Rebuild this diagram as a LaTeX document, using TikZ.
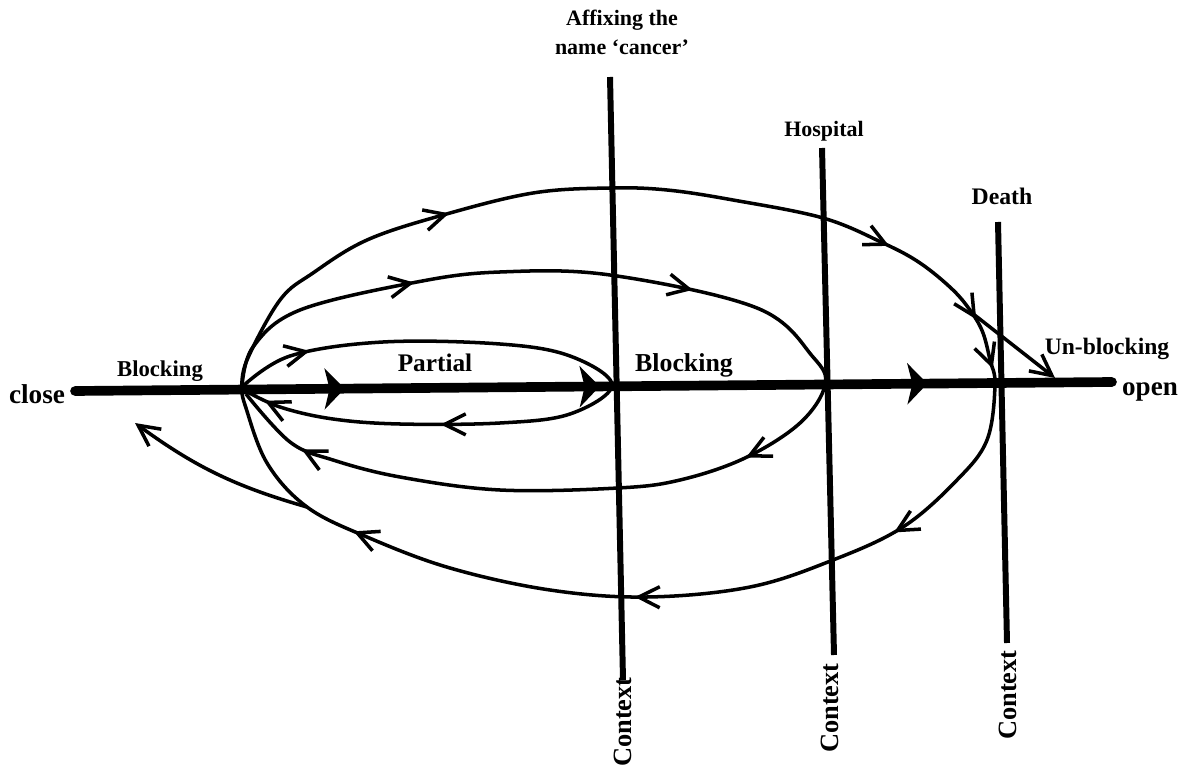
\documentclass[tikz,border=0pt]{standalone}
\usepackage{fontspec}
\setmainfont{Liberation Serif}
\usetikzlibrary{arrows.meta, decorations.markings}

\tikzset{
  axisline/.style={line width=5.5pt, line cap=round},
  ctxline/.style={line width=3.4pt},
  flow/.style={line width=2pt},
  bigtip at/.style={postaction={decorate, decoration={markings,
      mark=at position #1 with {\arrow{Stealth[length=0.4cm, width=0.82cm, inset=0.1cm]}}}}},
  tip at/.style={postaction={decorate, decoration={markings,
      mark=at position #1 with {\arrow{Straight Barb[length=0.42cm, width=0.42cm]}}}}},
  lbl/.style={inner sep=0pt, font=\bfseries\fontsize{#1}{17}\selectfont},
}

\begin{document}
\begin{tikzpicture}
    \useasboundingbox (0,0) rectangle (23.62,15.38);
    % points on the main line
    \coordinate (L) at (1.50,7.56);
    \coordinate (R) at (22.24,7.74);
    \coordinate (J) at (4.84,7.64);
    \coordinate (A) at (12.24,7.68);
    \coordinate (H) at (16.50,7.68);
    \coordinate (D) at (19.90,7.68);
    % branch points
    \coordinate (B) at (19.44,9.12);
    \coordinate (U) at (21.10,7.82);
    \coordinate (X) at (6.14,5.24);
    \coordinate (C) at (2.70,6.92);

    % labels
    \node[lbl=15.5, anchor=base] (close) at (0.74,7.30) {close};
    \node[lbl=12.9, anchor=base] (block1) at (3.20,7.84) {Blocking};
    \node[lbl=14.4, anchor=base] (partial) at (8.70,7.94) {Partial};
    \node[lbl=14.7, anchor=base] (block2) at (13.68,7.94) {Blocking};
    \node[lbl=13.4, anchor=base] (unblock) at (22.14,8.28) {Un-blocking};
    \node[lbl=15.4, anchor=base] (open) at (23.00,7.48) {open};
    \node[lbl=12.5, anchor=base, align=center] (affix) at (12.44,14.28) {Affixing the\\name `cancer'};
    \node[lbl=12.5, anchor=base] (hosp) at (16.48,12.64) {Hospital};
    \node[lbl=13.5, anchor=base] (death) at (20.04,11.28) {Death};
    \node[lbl=15, rotate=90] (ctx1) at (12.46,0.94) {Context};
    \node[lbl=15, rotate=90] (ctx2) at (16.60,1.22) {Context};
    \node[lbl=15, rotate=90] (ctx3) at (20.16,1.48) {Context};

    % context lines
    \coordinate (v1t) at (12.20,13.84);
    \coordinate (v1b) at (12.46,1.78);
    \coordinate (v2t) at (16.44,12.42);
    \coordinate (v2b) at (16.68,2.28);
    \coordinate (v3t) at (19.96,10.94);
    \coordinate (v3b) at (20.14,2.52);
    \draw[ctxline] (v1t) -- (v1b);
    \draw[ctxline] (v2t) -- (v2b);
    \draw[ctxline] (v3t) -- (v3b);

    % main line
    \draw[axisline, bigtip at=0.26, bigtip at=0.506, bigtip at=0.822] (L) -- (R);

    % inner loop
    \draw[flow, tip at=0.10, tip at=0.74, tip at=0.97] plot[smooth, tension=0.6] coordinates {
        (J) (5.80,8.26) (7.66,8.54) (10.00,8.50) (11.40,8.26) (A)
        (11.40,7.10) (10.00,6.92) (8.00,6.90) (6.66,7.00) (5.60,7.24) (4.88,7.58)};

    % middle loop
    \draw[flow, tip at=0.167, tip at=0.38, tip at=0.596, tip at=0.94] plot[smooth, tension=0.6] coordinates {
        (J) (5.06,8.44) (6.00,9.18) (8.34,9.74) (10.00,9.94) (12.20,9.88)
        (15.14,9.22) (16.26,8.24) (H) (16.00,6.92) (14.90,6.22) (13.60,5.78)
        (12.36,5.62) (10.00,5.58) (8.00,5.84) (6.66,6.18) (5.80,6.54) (4.92,7.50)};

    % outer loop
    \draw[flow, tip at=0.155, tip at=0.397, tip at=0.459, tip at=0.487, tip at=0.597,
          tip at=0.742, tip at=0.898] plot[smooth, tension=0.6] coordinates {
        (J) (4.94,8.18) (5.60,9.38) (6.26,9.92) (7.34,10.58) (8.86,11.08)
        (10.66,11.52) (12.20,11.62) (13.34,11.58) (14.66,11.38) (16.46,11.02)
        (17.66,10.52) (18.40,10.12) (19.06,9.58) (B) (19.66,8.72) (19.80,8.18)
        (D) (19.74,6.58) (19.14,5.78) (18.06,4.84) (16.66,4.18) (15.00,3.64)
        (12.94,3.44) (11.00,3.58) (9.00,4.02) (7.34,4.64) (X) (5.34,6.12)
        (4.90,7.28) (4.84,7.58)};

    % branches
    \draw[flow, -{Straight Barb[length=0.42cm, width=0.42cm]}] (B) -- (U);
    \draw[flow, -{Straight Barb[length=0.42cm, width=0.42cm]}] (X) to[bend left=10] (C);
\end{tikzpicture}
\end{document}
